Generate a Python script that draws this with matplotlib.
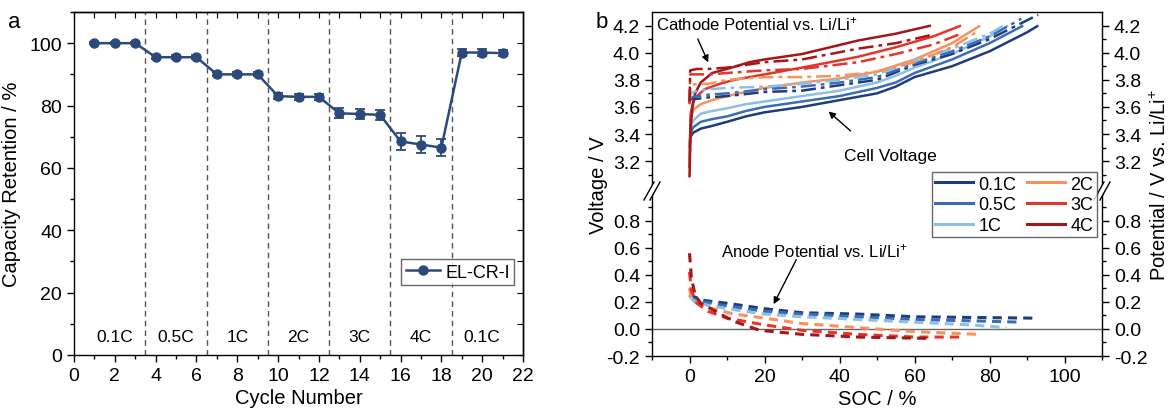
import matplotlib
matplotlib.use("Agg")
import matplotlib.pyplot as plt
from matplotlib.ticker import MultipleLocator, FixedLocator, FormatStrFormatter, FuncFormatter
from matplotlib.lines import Line2D
from matplotlib.patches import Polygon

plt.rcParams['font.family'] = ['Liberation Sans', 'DejaVu Sans']
plt.rcParams['mathtext.fontset'] = 'custom'
plt.rcParams['mathtext.rm'] = 'Liberation Sans'
plt.rcParams['mathtext.it'] = 'Liberation Sans:italic'
plt.rcParams['axes.linewidth'] = 1.0

# ---------------- Panel a data ----------------
cycles = list(range(1, 22))
retention = [100, 100, 100, 95.5, 95.5, 95.5, 90.0, 90.0, 90.0, 83.0, 82.8, 82.8,
             77.5, 77.3, 77.0, 68.5, 67.5, 66.5, 97.0, 97.0, 96.8]
retention_err = [0.3, 0.3, 0.3, 0.6, 0.6, 0.6, 0.6, 0.6, 0.6, 0.9, 0.9, 0.9,
                 1.6, 1.6, 1.6, 2.8, 2.8, 2.8, 1.0, 1.0, 1.0]
rate_boundaries = [3.5, 6.5, 9.5, 12.5, 15.5, 18.5]
rate_label_pos = [2, 5, 8, 11, 14, 17, 20]
rate_label_txt = ['0.1C', '0.5C', '1C', '2C', '3C', '4C', '0.1C']

# ---------------- Panel b data ----------------
rates = ['0.1C', '0.5C', '1C', '2C', '3C', '4C']
rate_colors = ['#1f3d7a', '#3b6db4', '#8dbfe4', '#f8925c', '#e2352b', '#a3171b']

# cell voltage (solid)
cell_soc_01 = [0, 0.3, 1, 3, 6, 10, 15, 20, 30, 40, 50, 55, 60, 70, 80, 90, 93]
cell_v_01 = [3.30, 3.38, 3.41, 3.44, 3.46, 3.49, 3.53, 3.56, 3.60, 3.65, 3.70, 3.75, 3.82, 3.90, 4.01, 4.15, 4.20]
cell_soc_05 = [0, 0.3, 1, 3, 6, 10, 15, 20, 30, 40, 50, 55, 60, 70, 80, 89]
cell_v_05 = [3.30, 3.41, 3.45, 3.49, 3.51, 3.53, 3.57, 3.60, 3.64, 3.68, 3.74, 3.78, 3.85, 3.95, 4.07, 4.20]
cell_soc_1 = [0, 0.3, 1, 3, 6, 10, 15, 20, 30, 40, 50, 55, 60, 70, 80, 85]
cell_v_1 = [3.30, 3.45, 3.50, 3.55, 3.57, 3.59, 3.62, 3.64, 3.68, 3.72, 3.78, 3.83, 3.89, 3.99, 4.12, 4.20]
cell_soc_2 = [0, 0.3, 1, 3, 6, 10, 15, 20, 30, 40, 50, 60, 70, 77.5]
cell_v_2 = [3.20, 3.52, 3.58, 3.62, 3.65, 3.68, 3.71, 3.74, 3.78, 3.81, 3.86, 3.95, 4.07, 4.20]
cell_soc_3 = [0, 0.3, 1, 2, 4, 8, 12, 20, 30, 45, 55, 65, 72.4]
cell_v_3 = [3.15, 3.55, 3.64, 3.68, 3.73, 3.77, 3.80, 3.84, 3.89, 3.97, 4.04, 4.12, 4.20]
cell_soc_4 = [0, 0.3, 0.8, 1.5, 3, 6, 10, 16, 20, 30, 45, 55, 64.4]
cell_v_4 = [3.08, 3.45, 3.60, 3.70, 3.78, 3.85, 3.88, 3.93, 3.95, 3.99, 4.09, 4.14, 4.20]

# cathode potential vs Li/Li+ (dash-dot)
cat_soc_01 = [0, 0.3, 2, 5, 10, 20, 30, 40, 50, 60, 70, 80, 93]
cat_v_01 = [3.63, 3.66, 3.66, 3.67, 3.68, 3.71, 3.72, 3.76, 3.80, 3.91, 3.99, 4.10, 4.28]
cat_soc_05 = [0, 0.3, 2, 5, 10, 20, 30, 40, 50, 60, 70, 80, 88.5]
cat_v_05 = [3.64, 3.67, 3.68, 3.69, 3.70, 3.73, 3.75, 3.78, 3.82, 3.92, 4.01, 4.12, 4.25]
cat_soc_1 = [0, 0.3, 2, 5, 10, 20, 30, 40, 50, 60, 70, 80, 84.5]
cat_v_1 = [3.64, 3.70, 3.72, 3.73, 3.74, 3.75, 3.77, 3.80, 3.84, 3.94, 4.03, 4.14, 4.21]
cat_soc_2 = [0, 0.3, 2, 5, 10, 20, 30, 40, 50, 60, 70, 77]
cat_v_2 = [3.63, 3.76, 3.77, 3.77, 3.80, 3.82, 3.82, 3.83, 3.86, 3.93, 4.04, 4.16]
cat_soc_3 = [0, 0.2, 2, 5, 10, 20, 30, 45, 55, 65, 72.4]
cat_v_3 = [3.62, 3.84, 3.84, 3.84, 3.85, 3.87, 3.88, 3.93, 3.99, 4.06, 4.14]
cat_soc_4 = [0, 0.2, 2, 5, 10, 20, 30, 45, 55, 64.4]
cat_v_4 = [3.64, 3.87, 3.88, 3.88, 3.89, 3.93, 3.95, 4.03, 4.07, 4.13]

# anode potential vs Li/Li+ (dashed)
an_soc_01 = [0, 1, 4, 10, 20, 30, 45, 60, 75, 92]
an_v_01 = [0.26, 0.24, 0.21, 0.19, 0.15, 0.12, 0.11, 0.09, 0.085, 0.08]
an_soc_05 = [0, 1, 4, 10, 20, 30, 45, 60, 75, 88.5]
an_v_05 = [0.25, 0.22, 0.20, 0.17, 0.13, 0.11, 0.09, 0.07, 0.06, 0.05]
an_soc_1 = [0, 1, 4, 10, 20, 30, 45, 60, 75, 84.5]
an_v_1 = [0.25, 0.21, 0.18, 0.15, 0.11, 0.09, 0.07, 0.05, 0.03, 0.01]
an_soc_2 = [0, 0.5, 2, 6, 12, 20, 30, 45, 60, 77]
an_v_2 = [0.30, 0.22, 0.19, 0.15, 0.11, 0.08, 0.04, 0.01, -0.02, -0.04]
an_soc_3 = [0, 0.5, 2, 5, 10, 20, 30, 45, 60, 72]
an_v_3 = [0.42, 0.28, 0.19, 0.13, 0.08, 0.03, -0.01, -0.04, -0.06, -0.06]
an_soc_4 = [0, 0.5, 1.5, 3, 7, 11.5, 18.7, 30, 45, 64]
an_v_4 = [0.56, 0.38, 0.25, 0.19, 0.13, 0.06, -0.01, -0.04, -0.06, -0.07]

cell_curves = [(cell_soc_01, cell_v_01), (cell_soc_05, cell_v_05), (cell_soc_1, cell_v_1),
               (cell_soc_2, cell_v_2), (cell_soc_3, cell_v_3), (cell_soc_4, cell_v_4)]
cat_curves = [(cat_soc_01, cat_v_01), (cat_soc_05, cat_v_05), (cat_soc_1, cat_v_1),
              (cat_soc_2, cat_v_2), (cat_soc_3, cat_v_3), (cat_soc_4, cat_v_4)]
an_curves = [(an_soc_01, an_v_01), (an_soc_05, an_v_05), (an_soc_1, an_v_1),
             (an_soc_2, an_v_2), (an_soc_3, an_v_3), (an_soc_4, an_v_4)]

# ---------------- Figure ----------------
W, H = 1174, 414
fig = plt.figure(figsize=(W / 100, H / 100), dpi=100)


def fx(px):
    return px / W


def fy(py):
    return 1 - py / H


TICK_FS = 14
LABEL_FS = 14.5
ANN_FS = 12.5
navy = '#2b4a7b'

# ----- Panel a -----
axA = fig.add_axes([fx(74), fy(356), fx(523) - fx(74), fy(13) - fy(356)])
for xb in rate_boundaries:
    axA.axvline(xb, color='#555555', ls=(0, (4, 3)), lw=1.0, zorder=1)
axA.errorbar(cycles, retention, yerr=retention_err, color=navy, marker='o', ms=6.5,
             lw=1.8, capsize=3.5, elinewidth=1.3, capthick=1.3, zorder=3)
for xp, t in zip(rate_label_pos, rate_label_txt):
    axA.text(xp, 6, t, ha='center', va='center', fontsize=12.5)
axA.set_xlim(0, 22)
axA.set_ylim(0, 110)
axA.xaxis.set_major_locator(MultipleLocator(2))
axA.xaxis.set_minor_locator(MultipleLocator(1))
axA.yaxis.set_major_locator(MultipleLocator(20))
axA.yaxis.set_minor_locator(MultipleLocator(10))
axA.tick_params(which='major', direction='out', length=5, width=1, labelsize=TICK_FS)
axA.tick_params(which='minor', direction='out', length=3, width=1)
axA.set_xlabel('Cycle Number', fontsize=LABEL_FS, labelpad=3)
axA.set_ylabel('Capacity Retention / %', fontsize=LABEL_FS, labelpad=6)
secx = axA.secondary_xaxis('top')
secx.xaxis.set_major_locator(MultipleLocator(1))
secx.tick_params(direction='in', length=4, labeltop=False)
secy = axA.secondary_yaxis('right')
secy.yaxis.set_major_locator(MultipleLocator(10))
secy.tick_params(direction='in', length=4, labelright=False)
legA_handle = Line2D([], [], color=navy, marker='o', ms=6.5, lw=1.8)
legA = axA.legend([legA_handle], ['EL-CR-I'], loc='upper left', bbox_to_anchor=(fx(401), fy(260)),
                  bbox_transform=fig.transFigure,
                  frameon=True, fancybox=False, edgecolor='#444444', fontsize=13,
                  handlelength=1.9, borderpad=0.25, handletextpad=0.3, borderaxespad=0)
legA.get_frame().set_linewidth(1.0)
fig.text(fx(14), fy(22), 'a', fontsize=16, ha='center', va='center')

# ----- Panel b -----
split = 192
axU = fig.add_axes([fx(652), fy(split), fx(1102) - fx(652), fy(13) - fy(split)])
axL = fig.add_axes([fx(652), fy(357), fx(1102) - fx(652), fy(split) - fy(357)])

lw = 1.8
for (s, v), c in zip(cell_curves, rate_colors):
    axU.plot(s, v, color=c, lw=lw, solid_capstyle='butt')
for (s, v), c in zip(cat_curves, rate_colors):
    axU.plot(s, v, color=c, lw=lw, ls=(0, (6, 2, 1.5, 2)))
for (s, v), c in zip(an_curves, rate_colors):
    axL.plot(s, v, color=c, lw=lw + 0.4, ls=(0, (3, 2)))
axL.axhline(0, color='#666666', lw=1.0, zorder=0)

for ax in (axU, axL):
    ax.set_xlim(-10, 110)
    ax.tick_params(axis='y', which='both', direction='out', left=True, right=True,
                   labelleft=True, labelright=True, labelsize=TICK_FS)
    ax.tick_params(which='major', length=5, width=1)
    ax.tick_params(which='minor', length=3, width=1)

axU.set_ylim(2.98, 4.30)
axU.yaxis.set_major_locator(FixedLocator([3.2, 3.4, 3.6, 3.8, 4.0, 4.2]))
axU.yaxis.set_minor_locator(FixedLocator([3.1, 3.3, 3.5, 3.7, 3.9, 4.1]))
axU.yaxis.set_major_formatter(FormatStrFormatter('%.1f'))
axU.spines['bottom'].set_visible(False)
axU.tick_params(axis='x', which='both', bottom=False, labelbottom=False)

axL.set_ylim(-0.2, 1.02)
axL.yaxis.set_major_locator(FixedLocator([-0.2, 0.0, 0.2, 0.4, 0.6, 0.8]))
axL.yaxis.set_minor_locator(FixedLocator([-0.1, 0.1, 0.3, 0.5, 0.7, 0.9]))
axL.yaxis.set_major_formatter(FormatStrFormatter('%.1f'))
axL.spines['top'].set_visible(False)
axL.xaxis.set_major_locator(MultipleLocator(20))
axL.xaxis.set_minor_locator(MultipleLocator(10))
axL.xaxis.set_major_formatter(FuncFormatter(lambda v, p: f'{v:.0f}' if v >= 0 else ''))
axL.tick_params(axis='x', which='both', direction='out', labelsize=TICK_FS)
axL.set_xlabel('SOC / %', fontsize=LABEL_FS, labelpad=3)

# break marks
for xb in (652, 1102):
    poly = Polygon([[fx(xb - 8), fy(split + 8)], [fx(xb + 2), fy(split - 10)],
                    [fx(xb + 8), fy(split - 10)], [fx(xb - 2), fy(split + 8)]],
                   closed=True, transform=fig.transFigure, facecolor='white', edgecolor='none', zorder=10)
    fig.add_artist(poly)
    for dx in (-3, 3):
        fig.add_artist(Line2D([fx(xb + dx - 5), fx(xb + dx + 5)], [fy(split + 9), fy(split - 9)],
                              transform=fig.transFigure, color='black', lw=1.0, zorder=11))

# annotations
axU.annotate('', xy=(5.3, 3.91), xytext=(1.9, 4.12),
             arrowprops=dict(arrowstyle='-|>', color='black', lw=1.0, mutation_scale=10))
axU.text(-9, 4.215, 'Cathode Potential vs. Li/Li$^{+}$', fontsize=ANN_FS - 0.5, ha='left', va='center')
axU.annotate('', xy=(36.5, 3.58), xytext=(43.5, 3.41),
             arrowprops=dict(arrowstyle='-|>', color='black', lw=1.0, mutation_scale=10))
axU.text(53.5, 3.24, 'Cell Voltage', fontsize=ANN_FS, ha='center', va='center')
axL.annotate('', xy=(22.1, 0.165), xytext=(28.8, 0.53),
             arrowprops=dict(arrowstyle='-|>', color='black', lw=1.0, mutation_scale=10))
axL.text(8.5, 0.58, 'Anode Potential vs. Li/Li$^{+}$', fontsize=ANN_FS - 0.5, ha='left', va='center')

# legend
handles = [Line2D([], [], color=c, lw=2.2) for c in rate_colors]
legB = fig.legend(handles, rates, ncol=2, loc='upper right',
                  bbox_to_anchor=(fx(1097), fy(173)), bbox_transform=fig.transFigure,
                  frameon=True, fancybox=False, edgecolor='#444444', fontsize=13,
                  handlelength=2.1, borderpad=0.2, labelspacing=0.2, handletextpad=0.3,
                  columnspacing=0.6, borderaxespad=0)
legB.get_frame().set_linewidth(1.0)
legB.set_zorder(20)

fig.text(fx(598), fy(185), 'Voltage / V', rotation=90, fontsize=LABEL_FS, ha='center', va='center')
fig.text(fx(1160), fy(185), 'Potential / V vs. Li/Li$^{+}$', rotation=90, fontsize=LABEL_FS,
         ha='center', va='center')
fig.text(fx(602), fy(22), 'b', fontsize=16, ha='center', va='center')

fig.savefig('out.png', dpi=100)
